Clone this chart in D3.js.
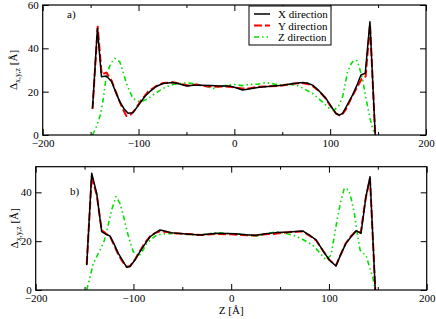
<!DOCTYPE html>
<html><head><meta charset="utf-8">
<script src="https://cdn.jsdelivr.net/npm/d3@7"></script>
<style>
body{margin:0;background:#fff;}
svg{display:block;font-family:"Liberation Serif","Times New Roman",serif;}
</style></head>
<body>
<svg id="c" width="436" height="319"></svg>
<script>
// ---- data ----
const xTicks = [-200,-100,0,100,200];
const xMinor = [-150,-50,50,150];
const yTicksA = [0,20,40,60];
const yTicksB = [0,20,40];
const seriesNames = ["X direction","Y direction","Z direction"];

const aX = [[-148,12.3],[-142.9,49.2],[-138.7,26.9],[-133.5,27.2],[-128,24.6],[-124,20],[-119.6,15.4],[-115,12],[-110.9,10],[-105.7,10.3],[-98.7,14.6],[-93,18],[-88.3,20],[-81,22.5],[-74.3,23.8],[-64,24.2],[-57,23.5],[-50,22.6],[-43,23],[-36,23],[-25,22.8],[-15,22.6],[-5.4,22.6],[0,22],[8.6,20.8],[15,21.2],[25.9,22],[38,22.5],[50.3,23],[60,23.6],[71.2,24.2],[76,24],[81.7,23],[88,20.5],[95.6,16.9],[102,12.5],[106,10],[109.5,9.2],[113,10],[118,14],[123.4,18.5],[128,23],[132.1,27.7],[136.6,28.5],[141.5,52.3],[147,0]];
const aY = [[-148,12],[-142.6,50],[-138.5,28],[-133.5,28.8],[-128,25],[-122,18],[-117,12.5],[-112.6,8.8],[-108,9.5],[-103,12],[-98,15.5],[-90,20],[-82,22.5],[-74,24],[-64,24.3],[-55,23.5],[-48,22.8],[-40,23.3],[-30,22.5],[-20,22.3],[-10,22.4],[0,22],[8,21.5],[15,21.5],[25,22.3],[38,22.5],[50,22.8],[60,23.6],[70,24],[80,23.2],[88,20.5],[95,17],[101,13],[106,10],[111,8.8],[116,11.5],[122,17],[128,22],[133,26],[137,27],[141.6,51],[147,0]];
const aZ = [[-148,0],[-144,3.8],[-140,9],[-137,16],[-133.5,27.7],[-129,33],[-124.8,35.4],[-119.6,33.8],[-116,29],[-112.6,23.8],[-108,19],[-105.7,16.9],[-101,15.6],[-97,15.4],[-91,16.5],[-84.8,18.5],[-78,20.5],[-70.8,22.3],[-62,23.5],[-57,23.8],[-50,24],[-43,23.8],[-35,23],[-28,22.3],[-22,21.5],[-15,22.3],[-8,23],[0,23.3],[8,22.8],[15,23.3],[25,23.5],[33,24.2],[42,23.5],[50,23.2],[58,23.3],[64.6,23],[72,21.5],[81.7,19.2],[90,16],[99,12.3],[104.2,11.5],[109,13.5],[113,17.7],[118.2,29.2],[122,33],[125.1,34.6],[128,34.3],[130.3,31.5],[133.9,25.4],[136.5,19],[139.1,13],[142,7],[144.3,3],[147,0]];

const bX = [[-147.8,10.2],[-142.7,47.8],[-137.6,39.6],[-132.5,23.9],[-128,22.8],[-124,22.1],[-120,19],[-115.5,15],[-111,12],[-106.9,9.3],[-103.5,9.6],[-98,12.5],[-93.3,15.7],[-88,19],[-83,21.8],[-78,23.3],[-72.8,24.6],[-66,24],[-62.6,23.5],[-49,23],[-32,22.5],[-15,23.2],[4.9,23],[15,22.6],[25.4,22.4],[35,23],[45.8,23.5],[60,23.8],[73.1,24.2],[80,22.5],[86.8,20.5],[94,16],[100.4,12.3],[107.2,9.8],[112,14.5],[117.4,19.1],[122,21.5],[127.7,24.3],[132.8,23.2],[137.9,38.3],[142,46.4],[147.4,0]];
const bY = [[-147.8,10.5],[-142.7,46.5],[-137.6,39],[-132.5,24.5],[-128,23],[-124,22],[-120,18.5],[-115.5,14.5],[-111,11.5],[-106.9,9.5],[-103.5,9.8],[-98,12.8],[-93.3,16],[-88,19.5],[-83,22],[-78,23.3],[-72.8,24],[-66,23.8],[-60,23.3],[-49,23],[-40,22.8],[-30,22.5],[-15,23],[0,22.8],[10,22.5],[25,22.3],[35,22.8],[45,23],[60,23.8],[73,24],[80,22.3],[87,20.3],[94,16],[100,12.5],[107,10],[112,14.5],[117,19],[122,21.8],[127.5,24],[132.5,23.5],[137.5,37.5],[142,45.5],[147.4,0]];
const bZ = [[-147.8,0],[-141,10.9],[-134.2,16.4],[-130,20],[-127.4,23.9],[-122.3,32.8],[-117.9,38.3],[-113.8,35.5],[-110,30],[-106.9,24.6],[-103,19],[-100.1,15.7],[-95,13.6],[-90,16.5],[-86.4,19.1],[-80,21.3],[-76.2,22.5],[-68,23],[-59.2,23.2],[-45,22.8],[-32,22.5],[-15,23.5],[0,23],[10,22.8],[20,22.5],[27,22],[35,23],[46,23.8],[55,23.2],[62.9,22.5],[72,21],[83.4,18.4],[90,15.5],[97,12.3],[102.1,14.3],[105,21],[108.9,30],[112,36],[115.7,41.7],[120.2,41],[123,37],[126,31.4],[129,23],[131.8,16.4],[135,15],[137.9,14.3],[141,10],[144.7,5.5],[147.4,0]];

// ---- styles ----
const styles = [
  {color:"#000000", width:1.5, dash:null},
  {color:"#ff0000", width:2, dash:"8,3"},
  {color:"#00e000", width:1.6, dash:"5,3,1.5,3,1.5,3"}
];

const svg = d3.select("#c");
const FS = 11;

function panel(cfg){
  const x = d3.scaleLinear().domain([-200,200]).range([cfg.left,cfg.right]);
  const y = d3.scaleLinear().domain([0,cfg.ymax]).range([cfg.bottom,cfg.top]);
  const g = svg.append("g");

  const clip = "clip"+cfg.id;
  svg.append("clipPath").attr("id",clip).append("rect")
    .attr("x",cfg.left).attr("y",cfg.top).attr("width",cfg.right-cfg.left).attr("height",cfg.bottom-cfg.top);

  const line = d3.line().x(d=>x(d[0])).y(d=>y(d[1]));
  const lg = g.append("g").attr("clip-path",`url(#${clip})`);
  [2,1,0].forEach(i=>{
    lg.append("path").datum(cfg.data[i])
      .attr("d",line).attr("fill","none")
      .attr("stroke",styles[i].color).attr("stroke-width",styles[i].width)
      .attr("stroke-dasharray",styles[i].dash).attr("stroke-linejoin","round");
  });

  function style(ax){ ax.select(".domain").remove(); ax.selectAll("line").attr("stroke","#000"); ax.selectAll("text").attr("font-size",FS).attr("font-family","Liberation Serif").attr("fill","#000"); }

  style(g.append("g").attr("transform",`translate(0,${cfg.bottom})`)
    .call(d3.axisBottom(x).tickValues(xTicks).tickSize(-6).tickSizeOuter(0).tickPadding(4).tickFormat(d3.format("d"))));
  style(g.append("g").attr("transform",`translate(0,${cfg.bottom})`)
    .call(d3.axisBottom(x).tickValues(xMinor).tickSize(-3).tickSizeOuter(0).tickFormat("")));
  style(g.append("g").attr("transform",`translate(0,${cfg.top})`)
    .call(d3.axisTop(x).tickValues(xTicks).tickSize(-6).tickSizeOuter(0).tickFormat("")));
  style(g.append("g").attr("transform",`translate(0,${cfg.top})`)
    .call(d3.axisTop(x).tickValues(xMinor).tickSize(-3).tickSizeOuter(0).tickFormat("")));
  style(g.append("g").attr("transform",`translate(${cfg.left},0)`)
    .call(d3.axisLeft(y).tickValues(cfg.yTicks).tickSize(-6).tickSizeOuter(0).tickPadding(4).tickFormat(d3.format("d"))));
  style(g.append("g").attr("transform",`translate(${cfg.right},0)`)
    .call(d3.axisRight(y).tickValues(cfg.yTicks).tickSize(-6).tickSizeOuter(0).tickFormat("")));

  g.append("rect").attr("x",cfg.left).attr("y",cfg.top)
    .attr("width",cfg.right-cfg.left).attr("height",cfg.bottom-cfg.top)
    .attr("fill","none").attr("stroke","#000").attr("stroke-width",1.2);

  g.append("text").attr("x",cfg.labX).attr("y",cfg.labY).attr("font-size",FS).text(cfg.label);

  const yl = g.append("text").attr("font-size",FS).attr("text-anchor","middle")
    .attr("transform",`translate(${cfg.ylabX},${(cfg.top+cfg.bottom)/2}) rotate(-90)`);
  yl.append("tspan").text("Δ");
  yl.append("tspan").attr("font-size",8).attr("dy",3).text("x,y,z");
  yl.append("tspan").attr("dy",-3).text(" [Å]");
  return {x,y,g};
}

const A = panel({id:"a",left:42.7,right:426,top:5,bottom:135,ymax:60,yTicks:yTicksA,data:[aX,aY,aZ],label:"a)",labX:67,labY:18,ylabX:17});
const B = panel({id:"b",left:35.7,right:426.7,top:166.7,bottom:290,ymax:50.5,yTicks:yTicksB,data:[bX,bY,bZ],label:"b)",labX:70,labY:195,ylabX:18});

svg.append("text").attr("x",B.x(0)).attr("y",314).attr("font-size",FS).attr("text-anchor","middle").text("Z [Å]");

// legend
const leg = svg.append("g");
leg.append("rect").attr("x",249).attr("y",6).attr("width",82).attr("height",39)
  .attr("fill","#fff").attr("stroke","#000").attr("stroke-width",1);
seriesNames.forEach((n,i)=>{
  const yy = 14 + i*11.5;
  leg.append("line").attr("x1",254).attr("x2",270).attr("y1",yy).attr("y2",yy)
    .attr("stroke",styles[i].color).attr("stroke-width",styles[i].width).attr("stroke-dasharray",styles[i].dash);
  leg.append("text").attr("x",278).attr("y",yy+4).attr("font-size",FS).text(n);
});
</script>
</body></html>
